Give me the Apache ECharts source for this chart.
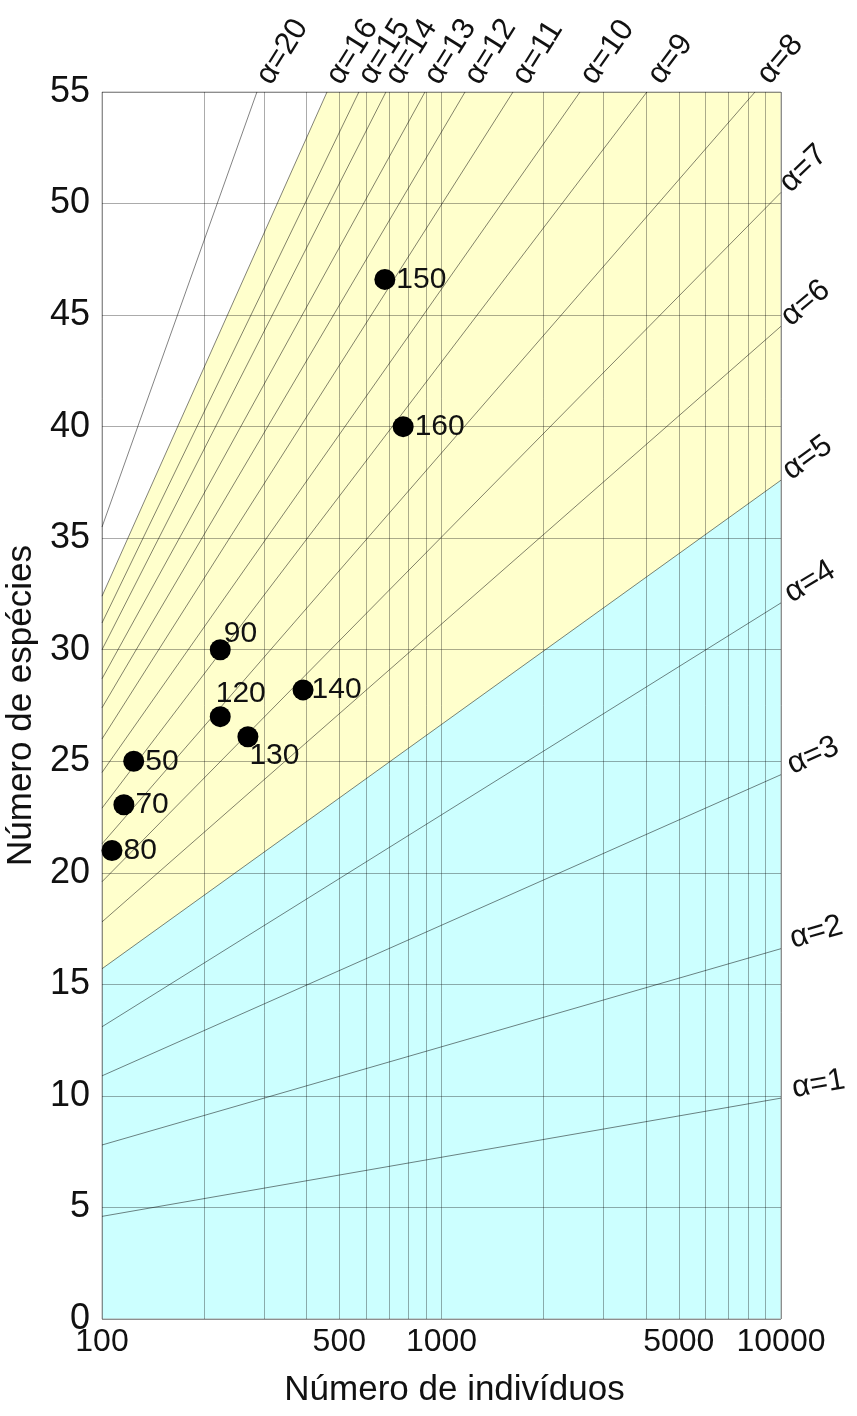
<!DOCTYPE html>
<html><head><meta charset="utf-8">
<script src="https://cdn.jsdelivr.net/npm/echarts@6/dist/echarts.min.js"></script>
<style>html,body{margin:0;padding:0;background:#fff}#chart{width:857px;height:1416px}</style>
</head><body><div id="chart"></div>
<script>
// ---- data ----
const alphaValues = [1,2,3,4,5,6,7,8,9,10,11,12,13,14,15,16,20];
const alphaStartN = [100,100,100,100,100,100,100,100,100,100,100,100,100,100,100,100,100];
const alphaStartS = [4.6,7.8,10.9,13.1,15.7,17.8,19.6,21.3,22.9,24.5,26.0,27.4,28.7,30.0,31.2,32.4,35.5];
const alphaEndN   = [10000,10000,10000,10000,10000,10000,10000,8384,4027,2558,1624,1173,894,686,571,460,286];
const alphaEndS   = [9.9,16.6,24.4,32.1,37.6,44.5,50.5,55,55,55,55,55,55,55,55,55,55];

const siteLabels = ['50','70','80','90','120','130','140','150','160'];
const siteN = [124,116,107,223,223,269,391,681,771];
const siteS = [25.0,23.05,21.0,30.0,27.0,26.1,28.2,46.6,40.0];

const xGridValues  = [100,200,300,400,500,600,700,800,900,1000,2000,3000,4000,5000,6000,7000,8000,9000,10000];
const xLabelValues = [100,500,1000,5000,10000];

// ---- styling (not data) ----
const alphaLabelRotate = [10,16,24,31,36,40,44,50,53,55,58,58,58,58,58,58,58];
const siteLabelOffset = {'90':[-8,-16],'120':[-16,-23],'130':[-10,19],'140':[-3,0]};
const FONT = 'Liberation Sans, Arial, sans-serif';
const YELLOW = '#FFFFCC', CYAN = '#CCFFFF';

const series = [];
// yellow band: bounded above by the alpha=16 line and the top edge
const i16 = alphaValues.indexOf(16);
series.push({
  type:'line', z:1, silent:true, symbol:'none',
  lineStyle:{width:0}, areaStyle:{color:YELLOW, opacity:1},
  data:[[alphaStartN[i16],alphaStartS[i16]],[alphaEndN[i16],alphaEndS[i16]],[10000,55]]
});
// cyan region: below the alpha=5 line
const i5 = alphaValues.indexOf(5);
series.push({
  type:'line', z:1, silent:true, symbol:'none',
  lineStyle:{width:0}, areaStyle:{color:CYAN, opacity:1},
  data:[[alphaStartN[i5],alphaStartS[i5]],[alphaEndN[i5],alphaEndS[i5]]]
});
// alpha isolines
alphaValues.forEach((a,i)=>{
  const atTop = alphaEndS[i] >= 55;
  series.push({
    type:'line', z:4, silent:true,
    symbol:'circle', symbolSize:0, showSymbol:true,
    lineStyle:{color:'rgba(0,0,0,0.55)', width:0.9},
    itemStyle:{color:'rgba(0,0,0,0)'},
    label:{show:false},
    data:[
      [alphaStartN[i],alphaStartS[i]],
      {value:[alphaEndN[i],alphaEndS[i]], label:{
        show:true, formatter:'α='+a, position: atTop ? [20,-2] : [14,6],
        align:'left', verticalAlign:'bottom',
        rotate:alphaLabelRotate[i], fontSize:31, fontFamily:FONT, color:'#111'
      }}
    ]
  });
});
// sites
series.push({
  type:'scatter', z:6, symbol:'circle', symbolSize:21,
  itemStyle:{color:'#000', opacity:1},
  data: siteLabels.map((l,i)=>{
    const off = siteLabelOffset[l] || [0,0];
    return {value:[siteN[i],siteS[i]], name:l, label:{
      show:true, formatter:l, position:'right', distance:1, offset:off,
      fontSize:30, fontFamily:FONT, color:'#111'
    }};
  })
});

const chart = echarts.init(document.getElementById('chart'), null, {renderer:'canvas'});
chart.setOption({
  animation:false,
  backgroundColor:'#fff',
  grid:{left:102, top:92, width:679, height:1227, show:true, borderColor:'#aaa', borderWidth:1,
        backgroundColor:'transparent', z:3, containLabel:false, outerBoundsMode:'none'},
  xAxis:{
    type:'log', logBase:10, min:100, max:10000, z:3,
    name:'Número de indivíduos', nameLocation:'middle', nameGap:54,
    nameTextStyle:{fontSize:35, fontFamily:FONT, color:'#111', padding:[0,0,0,26]},
    axisLine:{show:false},
    axisTick:{show:false, customValues:xGridValues},
    splitLine:{show:true, lineStyle:{color:'rgba(0,0,0,0.33)', width:1}},
    axisLabel:{customValues:xLabelValues, formatter:v=>String(Math.round(v)), margin:7,
      fontSize:32, fontFamily:FONT, color:'#111'}
  },
  yAxis:{
    type:'value', min:0, max:55, interval:5, z:3,
    name:'Número de espécies', nameLocation:'middle', nameGap:57,
    nameTextStyle:{fontSize:35, fontFamily:FONT, color:'#111'},
    axisLine:{show:false}, axisTick:{show:false},
    splitLine:{show:true, lineStyle:{color:'rgba(0,0,0,0.33)', width:1}},
    axisLabel:{margin:12, fontSize:36, fontFamily:FONT, color:'#111'}
  },
  series
});
</script></body></html>
